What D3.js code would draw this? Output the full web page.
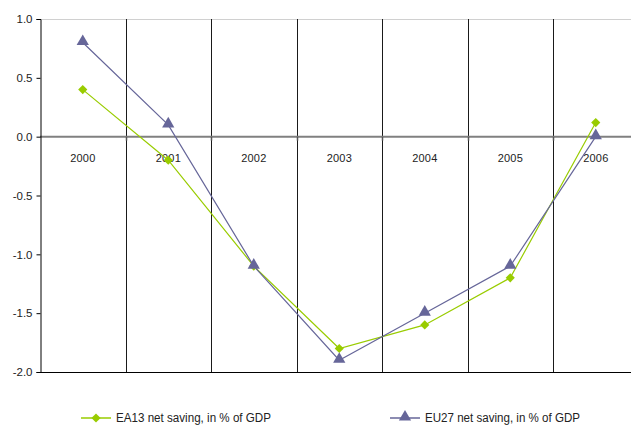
<!DOCTYPE html>
<html><head><meta charset="utf-8">
<script src="https://cdn.jsdelivr.net/npm/d3@7"></script>
<style>body{margin:0;background:#fff;}svg{display:block;font-family:"Liberation Sans",Arial,sans-serif;}</style>
</head><body>
<script>
const years = ["2000","2001","2002","2003","2004","2005","2006"];
const ea13 = [0.4, -0.2, -1.1, -1.8, -1.6, -1.2, 0.12];
const eu27 = [0.8, 0.1, -1.1, -1.9, -1.5, -1.1, 0.0];
const yTicks = [1.0, 0.5, 0.0, -0.5, -1.0, -1.5, -2.0];
const seriesNames = ["EA13 net saving, in %  of GDP", "EU27 net saving, in %  of GDP"];

(function () {
const W = 631, H = 425;
const svg = d3.select("body").append("svg").attr("width", W).attr("height", H);
const pL = 40, pR = 638.5, pT = 19, pB = 372;
const x = d3.scaleBand().domain(years).range([pL, pR]);
const y = d3.scaleLinear().domain([-2, 1]).range([pB, pT]);
const cx = d => x(d) + x.bandwidth() / 2;

// top border
svg.append("line").attr("x1", pL).attr("x2", pR).attr("y1", pT + 0.5).attr("y2", pT + 0.5)
  .attr("stroke", "#d0d0d0").attr("stroke-width", 1);
// vertical gridlines
svg.selectAll(".vg").data(years.slice(1)).enter().append("line")
  .attr("x1", d => Math.round(x(d)) + 0.5).attr("x2", d => Math.round(x(d)) + 0.5)
  .attr("y1", pT).attr("y2", pB).attr("stroke", "#1a1a1a").attr("stroke-width", 1);
// bottom line
svg.append("line").attr("x1", pL).attr("x2", pR).attr("y1", pB + 0.5).attr("y2", pB + 0.5)
  .attr("stroke", "#000").attr("stroke-width", 1.2);
// zero line
svg.append("line").attr("x1", pL).attr("x2", pR).attr("y1", y(0)).attr("y2", y(0))
  .attr("stroke", "#808080").attr("stroke-width", 2);
// small category ticks on zero line
svg.selectAll(".zt").data(years.slice(1)).enter().append("line")
  .attr("x1", d => Math.round(x(d)) + 0.5).attr("x2", d => Math.round(x(d)) + 0.5)
  .attr("y1", y(0)).attr("y2", y(0) + 4).attr("stroke", "#555").attr("stroke-width", 1.5);
// y axis
const yAxis = d3.axisLeft(y).tickValues(yTicks).tickFormat(d => d.toFixed(1)).tickSize(4).tickPadding(4);
const ga = svg.append("g").attr("transform", `translate(${pL + 0.5},0)`).call(yAxis);
ga.select(".domain").attr("stroke", "#000");
ga.selectAll(".tick line").attr("stroke", "#000");
ga.selectAll("text").attr("font-size", 11.5).attr("fill", "#222").attr("font-family", "'Liberation Sans',Arial,sans-serif");

// category labels
svg.selectAll(".cl").data(years).enter().append("text")
  .attr("x", d => cx(d)).attr("y", 162).attr("text-anchor", "middle")
  .attr("font-size", 11).attr("fill", "#222").attr("textLength", 25).text(d => d);

const colors = ["#99cc00", "#666699"];
const data = [ea13, eu27];
const line = d3.line().x((v, i) => cx(years[i])).y(v => y(v));
data.forEach((s, k) => {
  svg.append("path").attr("d", line(s)).attr("fill", "none").attr("stroke", colors[k]).attr("stroke-width", 1.2);
});
const tri = d3.symbol().type(d3.symbolTriangle).size(65);
svg.selectAll(".m0").data(ea13).enter().append("path")
  .attr("d", d3.symbol().type(d3.symbolSquare).size(42))
  .attr("transform", (v, i) => `translate(${cx(years[i])},${y(v)}) rotate(45)`).attr("fill", colors[0]);
svg.selectAll(".m1").data(eu27).enter().append("path")
  .attr("d", tri)
  .attr("transform", (v, i) => `translate(${cx(years[i])},${y(v) - 1})`).attr("fill", colors[1]);

// legend
const lg = [{x: 81}, {x: 390}];
lg.forEach((l, k) => {
  const g = svg.append("g");
  g.append("line").attr("x1", l.x).attr("x2", l.x + 30).attr("y1", 418).attr("y2", 418)
    .attr("stroke", colors[k]).attr("stroke-width", 1.5);
  if (k === 0) g.append("path").attr("d", d3.symbol().type(d3.symbolSquare).size(42)())
    .attr("transform", `translate(${l.x + 15},418) rotate(45)`).attr("fill", colors[k]);
  else g.append("path").attr("d", tri()).attr("transform", `translate(${l.x + 15},417)`).attr("fill", colors[k]);
  g.append("text").attr("x", l.x + 35).attr("y", 422).attr("font-size", 12.5).attr("fill", "#222")
    .attr("textLength", 155).attr("lengthAdjust", "spacingAndGlyphs").text(seriesNames[k]);
});
})();
</script>
</body></html>
